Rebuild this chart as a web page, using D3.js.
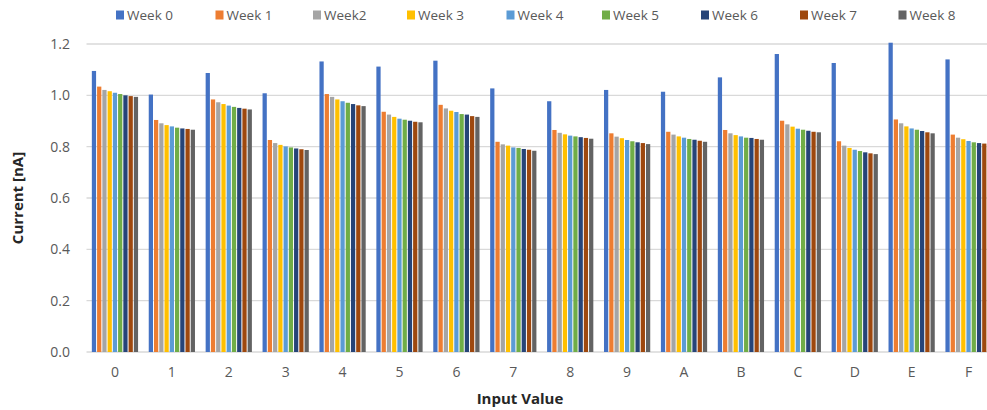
<!DOCTYPE html>
<html>
<head>
<meta charset="utf-8">
<script src="https://cdn.jsdelivr.net/npm/d3@7"></script>
<style>
  body { margin: 0; background: #fff; }
  svg { display: block; font-family: "Open Sans", sans-serif; }
</style>
</head>
<body>
<svg id="chart" width="987" height="410"></svg>
<script>
// chart data
const categories = ["0", "1", "2", "3", "4", "5", "6", "7", "8", "9", "A", "B", "C", "D", "E", "F"];
const seriesNames = ["Week 0", "Week 1", "Week2", "Week 3", "Week 4", "Week 5", "Week 6", "Week 7", "Week 8"];
const week0 = [1.095, 1.003, 1.087, 1.008, 1.132, 1.112, 1.135, 1.027, 0.977, 1.021, 1.014, 1.070, 1.161, 1.126, 1.205, 1.140];
const week1 = [1.034, 0.904, 0.984, 0.826, 1.005, 0.936, 0.963, 0.819, 0.865, 0.852, 0.858, 0.865, 0.901, 0.821, 0.906, 0.847];
const week2 = [1.021, 0.891, 0.973, 0.814, 0.994, 0.925, 0.949, 0.809, 0.854, 0.839, 0.847, 0.852, 0.887, 0.804, 0.891, 0.835];
const week3 = [1.016, 0.884, 0.966, 0.807, 0.984, 0.916, 0.940, 0.804, 0.848, 0.833, 0.840, 0.845, 0.878, 0.795, 0.879, 0.829];
const week4 = [1.010, 0.879, 0.960, 0.801, 0.977, 0.909, 0.935, 0.797, 0.843, 0.826, 0.835, 0.840, 0.870, 0.788, 0.871, 0.822];
const week5 = [1.005, 0.874, 0.955, 0.797, 0.971, 0.905, 0.927, 0.795, 0.840, 0.821, 0.830, 0.835, 0.866, 0.783, 0.866, 0.817];
const week6 = [1.000, 0.871, 0.951, 0.793, 0.966, 0.901, 0.925, 0.791, 0.837, 0.817, 0.827, 0.834, 0.862, 0.778, 0.861, 0.814];
const week7 = [0.997, 0.869, 0.948, 0.790, 0.961, 0.897, 0.919, 0.788, 0.834, 0.814, 0.823, 0.830, 0.858, 0.774, 0.856, 0.812];
const week8 = [0.994, 0.866, 0.945, 0.787, 0.958, 0.895, 0.916, 0.784, 0.831, 0.810, 0.819, 0.827, 0.856, 0.771, 0.852, 0.809];
const yTicks = [0, 0.2, 0.4, 0.6, 0.8, 1.0, 1.2];

const allSeries = [week0, week1, week2, week3, week4, week5, week6, week7, week8];
const colors = ["#4472C4", "#ED7D31", "#A5A5A5", "#FFC000", "#5B9BD5", "#70AD47", "#264478", "#9E480E", "#636363"];

// plot area (right edge runs past the window, like the reference crop)
var plotLeft = 86.5, plotRight = 997, plotTop = 44, plotBottom = 352;

var svg = d3.select("#chart");

var x0 = d3.scaleBand()
  .domain(categories)
  .range([plotLeft, plotRight])
  .paddingInner(0.17)
  .paddingOuter(0.085);

var x1 = d3.scaleBand()
  .domain(d3.range(seriesNames.length))
  .range([0, x0.bandwidth()]);

var y = d3.scaleLinear().domain([0, 1.2]).range([plotBottom, plotTop]);

// gridlines
svg.append("g")
  .selectAll("line")
  .data(yTicks)
  .enter()
  .append("line")
  .attr("x1", plotLeft)
  .attr("x2", plotRight)
  .attr("y1", d => y(d))
  .attr("y2", d => y(d))
  .attr("stroke", "#D9D9D9")
  .attr("stroke-width", 1.3);

// bars
var groups = svg.append("g")
  .selectAll("g")
  .data(categories)
  .enter()
  .append("g")
  .attr("transform", d => "translate(" + x0(d) + ",0)");

groups.selectAll("rect")
  .data((d, i) => allSeries.map((s, k) => ({ k: k, v: s[i] })))
  .enter()
  .append("rect")
  .attr("x", d => x1(d.k) + 0.5)
  .attr("width", x1.bandwidth() - 1)
  .attr("y", d => y(d.v))
  .attr("height", d => y(0) - y(d.v))
  .attr("fill", d => colors[d.k]);

// y axis labels
var yAxis = d3.axisLeft(y)
  .tickValues(yTicks)
  .tickFormat(d3.format(".1f"))
  .tickSize(0)
  .tickPadding(0);

svg.append("g")
  .attr("transform", "translate(70,0)")
  .call(yAxis)
  .call(g => g.select(".domain").remove())
  .selectAll("text")
  .attr("fill", "#595959")
  .style("font-size", "14px")
  .style("font-family", "Open Sans, sans-serif");

// x axis labels
var xAxis = d3.axisBottom(x0).tickSize(0).tickPadding(0);

svg.append("g")
  .attr("transform", "translate(0,367)")
  .call(xAxis)
  .call(g => g.select(".domain").remove())
  .selectAll("text")
  .attr("fill", "#595959")
  .style("font-size", "14px")
  .style("font-family", "Open Sans, sans-serif");

// axis titles
svg.append("text")
  .attr("x", 520)
  .attr("y", 404)
  .attr("text-anchor", "middle")
  .style("font-size", "15px")
  .style("font-weight", "bold")
  .attr("fill", "#262626")
  .text("Input Value");

svg.append("text")
  .attr("transform", "translate(23,198) rotate(-90)")
  .attr("text-anchor", "middle")
  .style("font-size", "15px")
  .style("font-weight", "bold")
  .attr("fill", "#262626")
  .text("Current [nA]");

// legend
var legendX = [120, 219.5, 317, 411, 510.5, 606, 705, 804, 902.5];
var legend = svg.append("g")
  .selectAll("g")
  .data(seriesNames)
  .enter()
  .append("g")
  .attr("transform", (d, i) => "translate(" + legendX[i] + ",15)");

legend.append("rect")
  .attr("x", -4)
  .attr("y", -4.5)
  .attr("width", 8)
  .attr("height", 9)
  .attr("fill", (d, i) => colors[i]);

legend.append("text")
  .attr("x", 7)
  .attr("y", 5)
  .attr("fill", "#595959")
  .style("font-size", "13.5px")
  .text(d => d);
</script>
</body>
</html>
